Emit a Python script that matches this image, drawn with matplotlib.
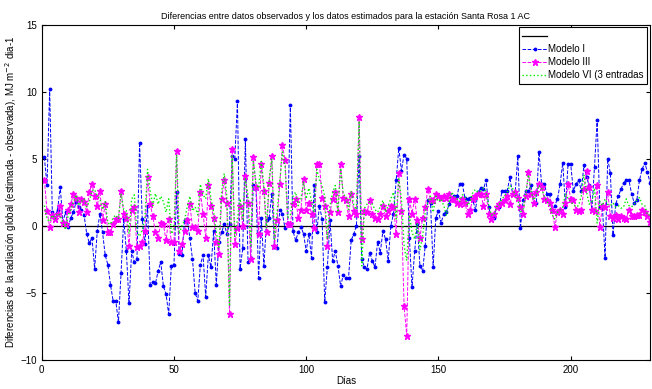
import matplotlib
matplotlib.use("Agg")
import matplotlib.pyplot as plt

plt.rcParams['font.family'] = ['Liberation Sans', 'DejaVu Sans']

modelo_1 = [
    5.1, 3.0, 10.2, 1.0, 0.6, 1.2, 2.9, 0.3, 1.0, -0.1,
    0.6, 1.0, 1.8, 1.4, 1.2, 0.8, -0.6, -1.3, -0.9, -3.2,
    -0.4, 0.9, -0.5, -2.2, -2.9, -4.4, -5.6, -5.6, -7.2, -3.5,
    0.5, -1.9, -5.8, -1.9, -2.7, -2.5, 6.2, 0.5, -1.4, 1.5,
    -4.4, -4.2, -4.3, -3.4, -2.7, -4.5, -5.1, -6.6, -3.0, -2.9,
    2.5, -2.1, -2.2, 0.4, 0.5, -0.9, -2.5, -5.0, -5.6, -2.9,
    -2.2, -5.3, -2.2, -3.1, -0.4, -4.4, -1.2, -0.5, 0.1, -0.6,
    0.1, 5.2, 5.0, 9.3, -3.2, -1.7, 6.5, -2.7, -2.4, 3.0,
    2.9, -3.9, 0.6, -3.0, 0.4, 0.6, 2.4, -1.6, -1.7, 1.2,
    0.9, -0.2, 0.2, 9.0, -0.4, -1.1, -0.5, -0.1, -0.6, -1.9,
    -0.6, -2.4, 3.0, -0.5, 1.5, 0.5, -5.7, -3.1, 0.4, -2.6,
    -1.9, -3.0, -4.5, -3.7, -3.9, -3.9, -1.1, -0.6, 0.0, 5.2,
    -2.5, -3.1, -3.2, -2.0, -2.6, -3.1, -1.2, -2.0, -0.4, -1.0,
    -2.6, 0.0, 0.9, 3.4, 5.8, 4.1, 5.3, 5.0, -0.9, -4.6,
    -1.9, 0.1, -3.0, -3.4, -1.5, 1.9, 1.7, -3.1, 0.6, 1.1,
    0.2, 0.9, 1.0, 1.6, 2.1, 2.2, 2.2, 3.1, 3.1, 2.1,
    2.0, 2.1, 1.9, 1.2, 2.5, 2.8, 2.7, 3.4, 1.4, 0.6,
    0.6, 1.4, 1.4, 2.6, 2.6, 2.6, 3.6, 2.4, 2.4, 5.2,
    -0.2, 1.9, 2.6, 2.6, 3.0, 1.7, 1.7, 5.5, 3.1, 3.1,
    2.4, 2.4, 1.1, 1.5, 2.0, 3.1, 4.7, 1.4, 4.6, 4.6,
    2.6, 3.1, 3.4, 2.6, 4.5, 3.6, 3.0, 1.2, 4.4, 7.9,
    1.4, 1.4, -2.4, 5.0, 3.9, -0.7, 1.6, 2.2, 2.7, 3.2,
    3.4, 3.4, 2.4, 1.7, 1.9, 3.4, 4.2, 4.7, 4.0, 3.2,
]

modelo_3 = [
    3.4, 1.1, -0.1, 0.8, 0.5, 0.9, 1.5, 0.2, 0.1, 1.2,
    1.6, 2.4, 2.1, 1.0, 2.0, 1.8, 1.0, 2.5, 3.1, 2.2,
    1.5, 2.6, 0.4, 1.6, -0.5, -0.5, 0.1, 0.5, 0.5, 2.6,
    0.9, 0.6, -1.5, 1.2, 1.4, -1.6, -1.5, -1.2, -0.4, 3.6,
    1.6, 0.7, -0.5, -0.9, 0.2, 0.1, -1.1, 0.5, -1.2, -1.2,
    5.6, -1.9, -1.4, -0.4, 0.4, 1.6, -0.1, -0.1, -0.4, 2.5,
    0.9, -0.9, 3.0, 1.5, 0.6, -1.2, -2.1, 2.0, 3.4, 1.7,
    -6.6, 5.7, -1.4, -0.2, 1.5, 0.0, 3.7, 1.7, -2.5, 5.1,
    2.9, -0.6, 4.6, 2.6, -0.5, 3.2, 5.2, -1.5, 0.4, 3.1,
    6.0, 4.9, 0.1, 0.1, 1.6, 2.0, 0.6, 1.2, 3.5, 1.2,
    1.7, 0.9, -0.2, 4.6, 4.6, 2.1, 1.5, -1.5, 1.0, 2.0,
    2.5, 1.0, 4.6, 2.1, 1.9, 0.7, 2.4, 1.1, 0.9, 8.1,
    -1.0, 1.1, 1.0, 1.9, 0.9, 0.6, 0.5, 0.9, 1.5, 0.7,
    1.1, 1.5, 1.4, -0.6, 3.9, 1.1, -6.0, -8.2, 2.0, 0.9,
    2.0, 0.4, -0.9, 0.6, 1.4, 2.7, 1.9, 1.9, 2.4, 2.2,
    2.1, 2.2, 2.1, 2.4, 2.0, 2.0, 1.7, 1.6, 2.0, 1.7,
    0.9, 1.2, 2.0, 2.2, 2.4, 2.4, 1.5, 2.4, 0.9, 0.5,
    0.9, 1.4, 1.6, 1.7, 1.9, 2.2, 1.6, 2.4, 2.5, 2.1,
    1.4, 0.9, 2.2, 4.0, 2.4, 1.7, 2.5, 3.1, 2.9, 2.0,
    1.9, 1.7, 1.2, -0.1, 1.0, 1.2, 0.9, 1.7, 3.1, 2.0,
    1.9, 1.2, 1.1, 1.2, 2.7, 4.1, 2.9, 1.2, 1.1, 3.0,
    -0.1, 1.5, 1.4, 2.5, 0.7, 0.6, 0.8, 0.5, 0.7, 0.6,
    0.5, 1.2, 0.7, 0.7, 0.8, 0.8, 1.2, 1.0, 0.7, 0.3,
]

modelo_6 = [
    1.5, 0.5, 0.3, 0.8, 0.5, 0.9, 0.8, 0.2, -0.3, 0.8,
    1.2, 1.8, 2.3, 1.5, 1.8, 2.0, 1.4, 1.8, 2.6, 2.7,
    2.2, 2.0, 1.2, 1.8, 0.2, 0.1, 0.6, 0.8, 0.5, 2.4,
    1.2, 1.1, -0.6, 2.0, 2.3, -0.5, -0.8, -0.3, 0.5, 4.2,
    2.6, 1.5, 2.4, 1.6, 2.2, 1.8, 1.0, 2.0, -0.6, -0.3,
    5.3, -0.6, 0.0, 0.4, 1.4, 2.2, 1.1, 1.4, 0.8, 3.1,
    2.3, 2.0, 3.5, 2.0, 1.0, -0.5, -1.6, 2.5, 3.9, 2.2,
    -6.0, 5.2, -0.8, 0.5, 2.0, 0.5, 3.5, 2.2, -1.5, 4.8,
    3.2, 2.8, 4.8, 3.0, -0.2, 3.5, 5.0, -1.0, 1.0, 3.3,
    5.5, 4.5, 0.6, 0.8, 2.2, 2.5, 1.5, 2.0, 3.3, 2.0,
    2.8, 1.8, 1.0, 4.2, 3.4, 3.0, 2.2, -1.0, 1.5, 2.5,
    3.0, 1.0, 4.3, 2.4, 2.1, 1.2, 2.6, 1.5, 1.2, 7.8,
    -3.0, 1.3, 1.6, 1.8, 1.6, 1.2, 1.0, 1.4, 1.9, 1.0,
    1.5, 2.0, 2.5, 0.5, 3.5, 2.0, -1.5, -2.6, 0.8, -0.5,
    -1.0, 0.2, -1.8, -0.8, 1.0, 1.8, 2.2, 1.0, 2.2, 1.8,
    2.0, 1.5, 0.8, 1.8, 2.5, 2.2, 2.0, 1.8, 2.3, 2.2,
    1.5, 1.8, 2.5, 2.7, 2.5, 2.6, 2.8, 2.5, 1.5, 0.8,
    0.8, 1.4, 1.6, 2.0, 2.2, 2.5, 3.0, 2.8, 2.3, 2.0,
    1.0, 1.2, 2.3, 3.8, 2.6, 1.9, 2.3, 3.0, 2.8, 2.2,
    1.8, 1.6, 0.8, 0.5, 1.0, 1.2, 1.4, 2.4, 2.0, 1.8,
    1.6, 1.4, 1.5, 2.2, 3.8, 2.5, 1.6, 1.8, 2.8, 0.2,
    1.8, 1.5, 2.0, 1.6, 1.5, 1.7, 1.4, 1.5, 1.3, 1.4,
    2.0, 1.5, 1.4, 1.6, 1.9, 2.1, 1.6, 1.5, 0.8, 0.8,
]

dias = list(range(1, len(modelo_1) + 1))

fig = plt.figure(figsize=(6.52, 3.89), dpi=100)
ax = fig.add_axes([0.064, 0.075, 0.933, 0.862])

cero, = ax.plot([0, 230], [0, 0], color='black', lw=0.9)
l1, = ax.plot(dias, modelo_1, color='blue', ls='--', lw=0.7, marker='.', ms=3.5)
l3, = ax.plot(dias, modelo_3, color='magenta', ls='--', lw=0.7, marker='*', ms=4.5)
l6, = ax.plot(dias, modelo_6, color='#00ee00', ls=':', lw=1.0)

ax.set_xlim(0, 230)
ax.set_ylim(-10, 15)
ax.set_xticks([0, 50, 100, 150, 200])
ax.set_yticks([-10, -5, 0, 5, 10, 15])
ax.tick_params(direction='in', top=True, right=True, labelsize=7, length=3)
for s in ax.spines.values():
    s.set_linewidth(0.8)

ax.set_title('Diferencias entre datos observados y los datos estimados para la estación Santa Rosa 1 AC',
             fontsize=6.5, pad=4)
ax.set_xlabel('Días', fontsize=7, labelpad=1)
ax.set_ylabel('Diferencias de la radiación global (estimada - observada), MJ m$^{-2}$ dia-1',
              fontsize=7, labelpad=1)

leg = ax.legend([cero, l1, l3, l6], ['', 'Modelo I', 'Modelo III', 'Modelo VI (3 entradas'],
                loc='upper right', fontsize=7, fancybox=False, framealpha=1,
                edgecolor='black', borderaxespad=0.3, handlelength=2.5,
                handletextpad=0.1, labelspacing=0.3)
leg.get_frame().set_linewidth(0.8)

fig.savefig('out.png', dpi=100)
